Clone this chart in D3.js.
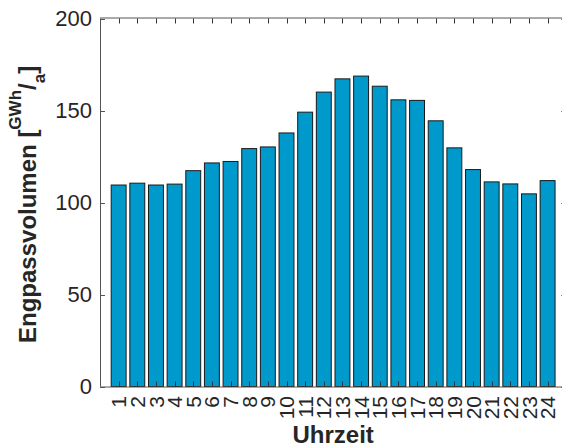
<!DOCTYPE html>
<html>
<head>
<meta charset="utf-8">
<script src="https://cdn.jsdelivr.net/npm/d3@7"></script>
<style>
  html, body { margin: 0; padding: 0; background: #fff; }
  svg { display: block; font-family: "Liberation Sans", Arial, Helvetica, sans-serif; }
</style>
</head>
<body>
<svg id="chart" width="562" height="448"></svg>
<script>
const hours = ["1","2","3","4","5","6","7","8","9","10","11","12","13","14","15","16","17","18","19","20","21","22","23","24"];
const volumes = [109.5,110.5,109.5,110,117.3,121.5,122.3,129.3,130.2,137.8,149.1,160,167.2,168.7,163.2,155.8,155.5,144.4,129.7,117.9,111.2,110.1,104.7,111.9];
const yTicks = [0, 50, 100, 150, 200];
const xLabel = "Uhrzeit";
const yLabelMain = "Engpassvolumen ";

const svg = d3.select("#chart");
const textColor = "#262626";
const axisColor = "#555";

const x = d3.scaleLinear().domain([0, 25]).range([100, 566.25]);
const y = d3.scaleLinear().domain([0, 200]).range([386.5, 18.5]);
const barW = 0.8 * (x(1) - x(0));

// bars
svg.append("g").selectAll("rect")
  .data(volumes)
  .join("rect")
  .attr("x", (d, i) => x(i + 1) - barW / 2)
  .attr("y", d => y(d))
  .attr("width", barW)
  .attr("height", d => y(0) - y(d))
  .attr("fill", "#0099cc")
  .attr("stroke", "#1a1a1a")
  .attr("stroke-width", 1);

// box lines
const x0 = x(0), x1 = x(25), yb = y(0), yt = y(200);
const box = svg.append("g").attr("stroke", axisColor).attr("stroke-width", 1).attr("fill", "none");
box.append("line").attr("x1", x0 + 0.5).attr("x2", x0 + 0.5).attr("y1", yt).attr("y2", yb);
box.append("line").attr("x1", x0).attr("x2", x1).attr("y1", yb + 0.5).attr("y2", yb + 0.5);
box.append("line").attr("x1", x0).attr("x2", x1).attr("y1", yt - 0.5).attr("y2", yt - 0.5);
box.append("line").attr("x1", x1 - 0.5).attr("x2", x1 - 0.5).attr("y1", yt).attr("y2", yb);

// x ticks (bottom & top, inward)
hours.forEach((h, i) => {
  const xp = Math.round(x(i + 1)) + 0.5;
  box.append("line").attr("x1", xp).attr("x2", xp).attr("y1", yb).attr("y2", yb - 5).attr("stroke", "#333");
  box.append("line").attr("x1", xp).attr("x2", xp).attr("y1", yt).attr("y2", yt + 5).attr("stroke", "#333");
});
// y ticks (left & right, inward)
yTicks.forEach(t => {
  const yp = Math.round(y(t)) + 0.5;
  box.append("line").attr("x1", x0).attr("x2", x0 + 5).attr("y1", yp).attr("y2", yp);
  box.append("line").attr("x1", x1).attr("x2", x1 - 5).attr("y1", yp).attr("y2", yp);
});

// y tick labels
svg.append("g").selectAll("text")
  .data(yTicks)
  .join("text")
  .attr("x", 92)
  .attr("y", d => y(d))
  .attr("dy", "0.36em")
  .attr("text-anchor", "end")
  .attr("font-size", 22)
  .attr("fill", textColor)
  .text(d => d);

// x tick labels (rotated)
svg.append("g").selectAll("text")
  .data(hours)
  .join("text")
  .attr("transform", (d, i) => `translate(${x(i + 1)},396) rotate(-90)`)
  .attr("dy", "0.36em")
  .attr("text-anchor", "end")
  .attr("font-size", 21)
  .attr("fill", textColor)
  .text(d => d);

// x axis label
svg.append("text")
  .attr("x", (x0 + x1) / 2)
  .attr("y", 443)
  .attr("text-anchor", "middle")
  .attr("font-size", 24)
  .attr("font-weight", "bold")
  .attr("fill", textColor)
  .text(xLabel);

// y axis label with super/subscript
const yl = svg.append("text")
  .attr("transform", "translate(36,343) rotate(-90)")
  .attr("text-anchor", "start")
  .attr("font-size", 24)
  .attr("font-weight", "bold")
  .attr("fill", textColor);
yl.append("tspan").text(yLabelMain + "[");
yl.append("tspan").attr("font-size", 17).attr("dy", -15).text("GWh");
yl.append("tspan").attr("dy", 15).text("/");
yl.append("tspan").attr("font-size", 17).attr("dy", 9).text("a");
yl.append("tspan").attr("dy", -9).text("]");
</script>
</body>
</html>
